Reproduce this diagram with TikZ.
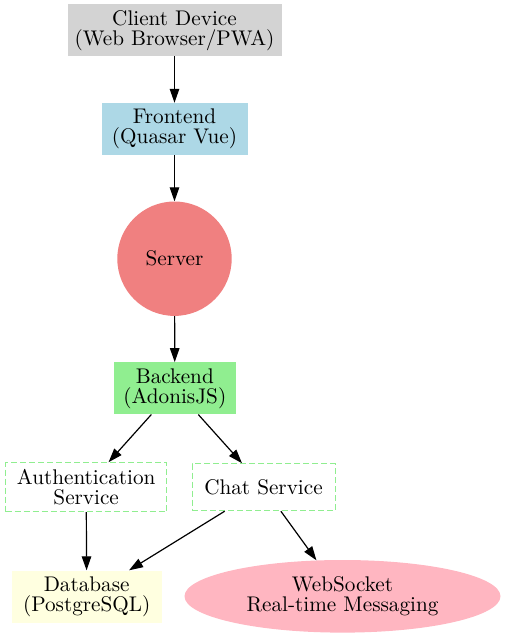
\documentclass[tikz,border=0pt]{standalone}
\usepackage{fontspec}
\usetikzlibrary{arrows.meta,shapes.geometric}
\newfontfamily\lmten{lmroman10-regular.otf}
\definecolor{lgray}{HTML}{D3D3D3}
\definecolor{lblue}{HTML}{ADD8E6}
\definecolor{lcoral}{HTML}{F08080}
\definecolor{lgreen}{HTML}{90EE90}
\definecolor{lyellow}{HTML}{FFFFE0}
\definecolor{lpink}{HTML}{FFB6C1}
\newcommand{\nodefont}{\lmten\fontsize{21.2}{20}\selectfont\lineskiplimit=-100pt\relax}
\tikzset{
	lbl/.style={align=center,inner sep=0pt,font=\nodefont},
	flow/.style={-{Triangle[length=14pt,width=9.5pt]},line width=1.2pt},
	svcbox/.style={lbl,rectangle,draw=lgreen,line width=1pt,dash pattern=on 6pt off 3pt}
}
\begin{document}
	\begin{tikzpicture}[x=1pt,y=-1pt]
		\useasboundingbox (0,0) rectangle (505,638);
		\node[lbl,fill=lgray,minimum width=214pt,minimum height=52pt](client) at (174.5,30.2){Client Device\\(Web Browser/PWA)};
		\node[lbl,fill=lblue,minimum width=146pt,minimum height=52pt](frontend) at (174.5,129){Frontend\\(Quasar Vue)};
		\node[lbl,circle,fill=lcoral,minimum size=114.4pt](server) at (174.5,258.7){Server};
		\node[lbl,fill=lgreen,minimum width=121.7pt,minimum height=52pt](backend) at (174.8,388.3){Backend\\(AdonisJS)};
		\node[svcbox,minimum width=161pt,minimum height=49pt](auth) at (86.2,487.2){Authentication\\Service};
		\node[svcbox,minimum width=143pt,minimum height=47pt](chat) at (263.5,487.2){Chat Service};
		\node[lbl,fill=lyellow,minimum width=150pt,minimum height=52pt](db) at (86.7,596.5){Database\\(PostgreSQL)};
		\node[lbl,ellipse,fill=lpink,minimum width=316pt,minimum height=72.6pt](ws) at (342.5,596.3){WebSocket\\Real-time Messaging};
		\draw[flow](client)--(frontend);
		\draw[flow](frontend)--(server);
		\draw[flow](server)--(backend);
		\draw[flow](backend)--(auth);
		\draw[flow](backend)--(chat);
		\draw[flow](auth)--(db);
		\draw[flow](chat)--(db);
		\draw[flow](chat)--(ws);
	\end{tikzpicture}
\end{document}
